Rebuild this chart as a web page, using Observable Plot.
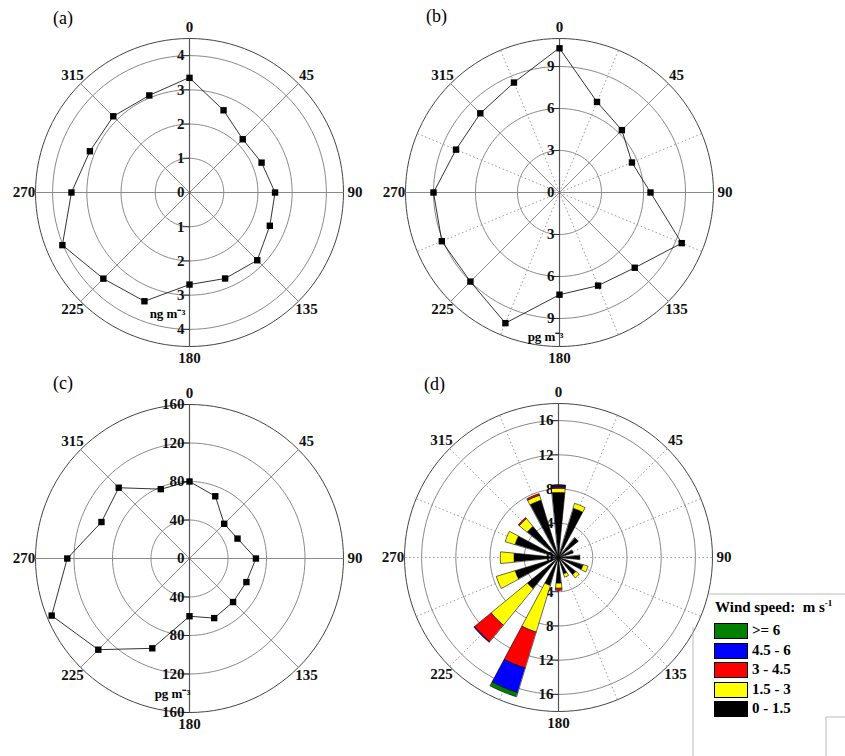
<!DOCTYPE html>
<html><head><meta charset="utf-8">
<script src="https://cdn.jsdelivr.net/npm/d3@7"></script>
<script src="https://cdn.jsdelivr.net/npm/@observablehq/plot@0.6"></script>
<style>
body{margin:0;background:#fff;font-family:"Liberation Serif",serif;}
#root{position:relative;width:845px;height:756px;overflow:hidden;}
.pan{position:absolute;width:420px;height:380px;}
.lab{position:absolute;font-size:18px;}
.leg{position:absolute;font-weight:bold;font-size:15px;}
.sw{position:absolute;width:34px;height:16px;border:1px solid #000;box-sizing:border-box;}
</style></head><body><div id="root"></div>
<script>
const directions = [0,22.5,45,67.5,90,112.5,135,157.5,180,202.5,225,247.5,270,292.5,315,337.5];
const angleLabels = [0,45,90,135,180,225,270,315];
// (a) ng m-3
const valuesA = [3.35,2.6,2.2,2.28,2.5,2.54,2.8,2.72,2.69,3.44,3.56,4.02,3.45,3.15,3.15,3.07];
const ticksA = [0,1,2,3,4];
// (b) pg m-3
const valuesB = [10.3,7.0,6.3,5.6,6.5,9.45,7.6,7.2,7.3,10.1,9.0,9.1,9.0,8.0,8.0,8.5];
const ticksB = [0,3,6,9];
// (c) pg m-3
const valuesC = [80,70,51,54,69,64,64,67,60,101,134,155,127,99,104,78];
const ticksC = [0,40,80,120,160];
// (d) wind frequency by speed class
const ticksD = [0,4,8,12,16];
const speedClasses = [">= 6","4.5 - 6","3 - 4.5","1.5 - 3","0 - 1.5"];
const speedColors = ["#008000","#0000ff","#ff0000","#ffff00","#000000"];
const ws_0_15 = [7.6,6.0,3.0,1.8,2.5,3.0,2.6,2.0,3.0,3.4,4.7,5.3,5.2,5.3,4.7,7.0];
const ws_15_3 = [0.5,0.6,0,0,0,0.6,0.5,0.4,0.6,5.7,5.5,2.3,1.6,1.2,1.2,0.6];
const ws_3_45 = [0.15,0,0,0,0,0,0,0,0.25,4.4,2.5,0,0,0,0.15,0.2];
const ws_45_6 = [0.2,0,0,0,0,0,0,0,0,3.0,0.1,0,0,0,0,0];
const ws_6 = [0.05,0,0,0,0,0,0,0,0,0.5,0,0,0,0,0,0];

const root = document.getElementById("root");
const P = 154; // outer radius px
const pol = (r, deg) => ({x: r*Math.sin(deg*Math.PI/180), y: r*Math.cos(deg*Math.PI/180)});

function panel(o){
  const R = o.outer;
  const marks = [];
  // rings
  const ringPts = [];
  o.rings.forEach((rv,i)=>{ for(let a=0;a<=360;a+=3){ringPts.push({...pol(rv,a), k:i, outer: rv===R});} });
  marks.push(Plot.line(ringPts.filter(d=>!d.outer),{x:"x",y:"y",z:"k",stroke:"#8a8a8a",strokeWidth:1}));
  marks.push(Plot.line(ringPts.filter(d=>d.outer),{x:"x",y:"y",z:"k",stroke:"#444",strokeWidth:1}));
  // spokes
  const sp = o.spokes.map(s=>({...s, ...pol(R,s.a)}));
  marks.push(Plot.link(sp.filter(s=>!s.dot),{x1:0,y1:0,x2:"x",y2:"y",stroke:"#8a8a8a",strokeWidth:1}));
  marks.push(Plot.link(sp.filter(s=>s.dot),{x1:0,y1:0,x2:"x",y2:"y",stroke:"#9a9a9a",strokeWidth:1,strokeDasharray:"1.5,2.5"}));
  marks.push(Plot.link([{y:-R},{y:R}].map(d=>({y1:0,y2:d.y})),{x1:0,x2:0,y1:"y1",y2:"y2",stroke:"#555",strokeWidth:1.2}));
  // ticks and labels on vertical axis
  const tk = [];
  o.ticks.forEach(v=>{ tk.push({v, y:v}); if(v>0) tk.push({v, y:-v}); });
  const tl = R*0.045;
  marks.push(Plot.link(tk.filter(d=>d.v>0),{x1:-tl,x2:0,y1:"y",y2:"y",stroke:"#333"}));
  marks.push(Plot.text(tk,{x:0,y:"y",text:d=>String(d.v),textAnchor:"end",dx:-5,fontSize:15,fontWeight:"bold",fill:"#111",stroke:"white",strokeWidth:0}));
  // unit
  if(o.unit) marks.push(Plot.text([o.unit],{x:0,y:-R*o.unitY,dx:o.unitDx,text:d=>d,fontSize:13,fontWeight:"bold"}));
  // data
  if(o.values){
    const pts = directions.map((a,i)=>({...pol(o.values[i],a)}));
    marks.push(Plot.line(pts,{x:"x",y:"y",curve:"linear-closed",stroke:"#000",strokeWidth:0.8}));
    marks.push(Plot.dot(pts,{x:"x",y:"y",symbol:"square",r:3.6,fill:"#000"}));
  }
  if(o.wind){
    const classes = [ws_0_15, ws_15_3, ws_3_45, ws_45_6, ws_6];
    const cols = ["#000000","#ffff00","#ff0000","#0000ff","#008000"];
    const poly = [];
    const hw = 5.6;
    directions.forEach((a,i)=>{
      let r0 = 0;
      classes.forEach((c,j)=>{
        const v = c[i]; if(!v) return;
        const r1 = r0+v, id = i+"-"+j;
        for(let t=-hw;t<=hw+0.01;t+=hw/3) poly.push({id, fill:cols[j], ...pol(r1,a+t)});
        for(let t=hw;t>=-hw-0.01;t-=hw/3) poly.push({id, fill:cols[j], ...pol(r0,a+t)});
        r0 = r1;
      });
    });
    marks.push(Plot.line(poly,{x:"x",y:"y",z:"id",fill:"fill",stroke:"#000",strokeWidth:0.6,curve:"linear-closed"}));
  }
  // angle labels
  const al = angleLabels.map(a=>({a, ...pol(R*1.075,a)}));
  marks.push(Plot.text(al,{x:"x",y:"y",text:d=>String(d.a),fontSize:15,fontWeight:"bold",fill:"#111"}));
  const chart = Plot.plot({
    width:420, height:380, margin:0,
    style:{fontFamily:"Liberation Serif, serif", background:"transparent", overflow:"visible"},
    x:{domain:[-R,R], range:[210-P,210+P], axis:null},
    y:{domain:[-R,R], range:[190+P,190-P], axis:null},
    color:{type:"identity"},
    marks
  });
  const div = document.createElement("div");
  div.className="pan"; div.style.left=(o.cx-210)+"px"; div.style.top=(o.cy-190)+"px";
  div.appendChild(chart); root.appendChild(div);
  const lab = document.createElement("div"); lab.className="lab"; lab.textContent=o.letter;
  lab.style.left=o.lx+"px"; lab.style.top=o.ly+"px"; root.appendChild(lab);
}
const solid45 = directions.filter(a=>a%45===0).map(a=>({a,dot:false}));
panel({cx:188.7,cy:191.7,outer:4.5,rings:[1,2,3,4,4.5],spokes:solid45,ticks:ticksA,values:valuesA,unit:"ng m\u207B\u00B3",unitY:0.79,unitDx:-22,letter:"(a)",lx:53,ly:8});
panel({cx:559.3,cy:191.7,outer:11,rings:[3,6,9,11],spokes:directions.map(a=>({a,dot:a%45!==0})),ticks:ticksB,values:valuesB,unit:"pg m\u207B\u00B3",unitY:0.94,unitDx:-14,letter:"(b)",lx:426,ly:6});
panel({cx:188.7,cy:557.7,outer:160,rings:[40,80,120,160],spokes:solid45,ticks:ticksC,values:valuesC,unit:"pg m\u207B\u00B3",unitY:0.88,unitDx:-17,letter:"(c)",lx:53,ly:373});
panel({cx:558.3,cy:556.7,outer:18,rings:[4,8,12,16,18],spokes:directions.map(a=>({a,dot:a%180!==0})),ticks:ticksD,wind:true,letter:"(d)",lx:424,ly:374});

// legend
const frame = document.createElementNS("http://www.w3.org/2000/svg","svg");
frame.setAttribute("width",845); frame.setAttribute("height",756);
frame.style.position="absolute"; frame.style.left="0"; frame.style.top="0"; frame.style.pointerEvents="none";
frame.innerHTML='<path d="M709,594 H845 M693,627 V756 M826,717 V756 M826,717 H845" stroke="#bbb" fill="none"/>';
root.appendChild(frame);
const title = document.createElement("div"); title.className="leg";
title.style.left="715px"; title.style.top="598px"; title.innerHTML='Wind speed:&nbsp; m s<sup style="font-size:9px">-1</sup>';
root.appendChild(title);
speedClasses.forEach((s,i)=>{
  const y = 623 + i*19.5;
  const sw = document.createElement("div"); sw.className="sw"; sw.style.left="714px"; sw.style.top=y+"px"; sw.style.background=speedColors[i]; root.appendChild(sw);
  const t = document.createElement("div"); t.className="leg"; t.style.left="752px"; t.style.top=(y-1)+"px"; t.textContent=s; root.appendChild(t);
});
</script></body></html>
